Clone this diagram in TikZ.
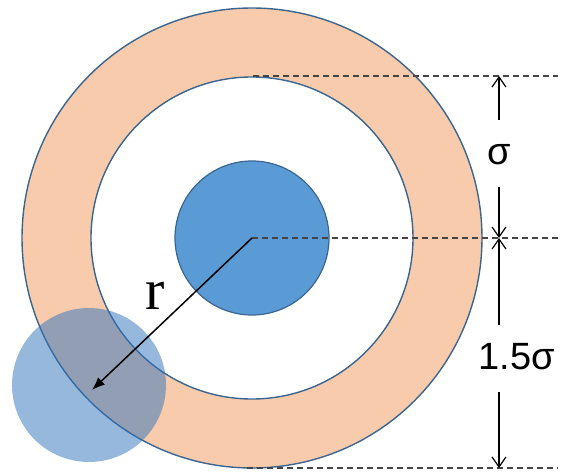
\documentclass[tikz,border=0pt]{standalone}
\usepackage{fontspec}
\setmainfont{Liberation Serif}
\newfontfamily\labsans{Liberation Sans}
\usetikzlibrary{arrows.meta}
\definecolor{ringfill}{HTML}{F8CBAD}
\definecolor{edgeblue}{HTML}{3A6591}
\definecolor{coreblue}{HTML}{5B9BD5}
\definecolor{probeblue}{HTML}{2E72BA}
\definecolor{dashgray}{HTML}{444444}
\begin{document}
\begin{tikzpicture}[x=1pt,y=-1pt,
  ringline/.style={draw=edgeblue,line width=1.4pt},
  guide/.style={dashgray,line width=1.3pt,dash pattern=on 6pt off 4pt},
  dimarrow/.style={black,line width=1.2pt,-{Straight Barb[length=10pt,width=14pt,line width=1.2pt]}},
  radarrow/.style={black,line width=1.5pt,-{Latex[length=13pt,width=10pt]}},
  sigmalabel/.style={font=\labsans\fontsize{38}{40}\selectfont,inner sep=0pt},
  rlabel/.style={font=\fontsize{58}{60}\selectfont,inner sep=0pt}]
\useasboundingbox (0,0) rectangle (571,476);
% circles
\coordinate (c) at (252,238);
\path[ringline,fill=ringfill] (c) circle[radius=230];
\path[ringline,fill=white] (c) circle[radius=161];
\path[draw=edgeblue,line width=1.2pt,fill=coreblue] (c) circle[radius=77];
% probe circle
\path[fill=probeblue,fill opacity=0.5] (89,385) circle[radius=77];
% coordinates for guides
\coordinate (topL) at (253,76);
\coordinate (topR) at (558,76);
\coordinate (midR) at (558,238);
\coordinate (botL) at (247,468);
\coordinate (botR) at (558,468);
\coordinate (dimTop) at (499,76);
\coordinate (dimMid) at (499,238);
\coordinate (dimBot) at (499,468);
\coordinate (rEnd) at (92,390);
% guides
\draw[guide] (topL) -- (topR);
\draw[guide] (c) -- (midR);
\draw[guide] (botL) -- (botR);
% labels
\node[sigmalabel] (sig) at (499,155) {σ};
\node[sigmalabel] (sig15) at (517,357) {1.5σ};
\node[rlabel] (rl) at (155,296) {r};
% dimension arrows
\draw[dimarrow] (499,120) -- (dimTop);
\draw[dimarrow] (499,187) -- (dimMid);
\draw[dimarrow] (499,325) -- (dimMid);
\draw[dimarrow] (499,392) -- (dimBot);
% radius arrow
\draw[radarrow] (c) -- (rEnd);
\end{tikzpicture}
\end{document}
